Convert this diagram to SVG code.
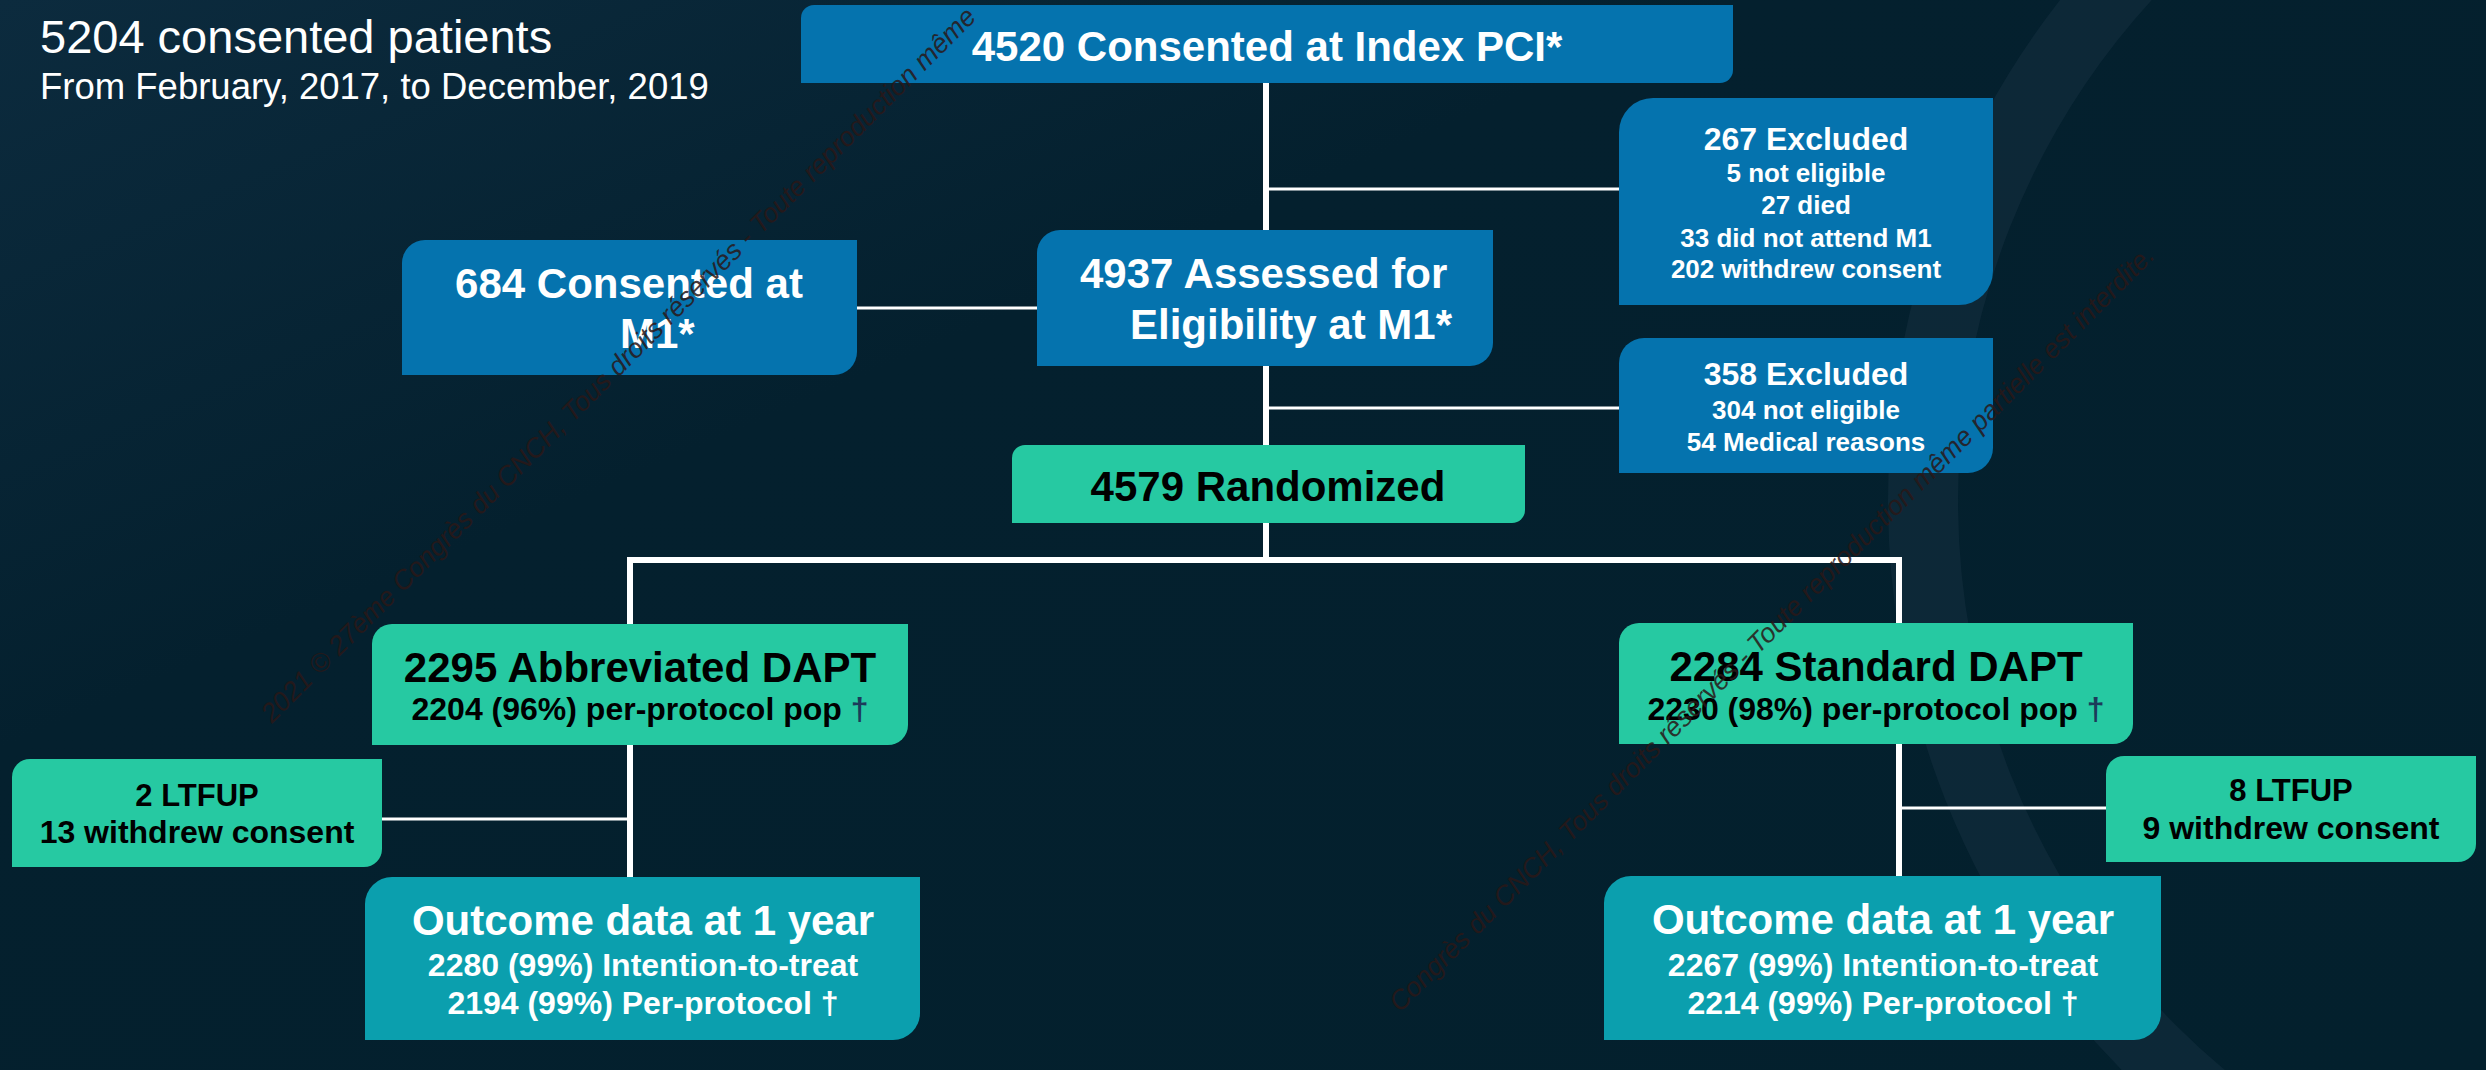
<svg xmlns="http://www.w3.org/2000/svg" width="2486" height="1070" viewBox="0 0 2486 1070">
<defs>
<linearGradient id="bg" x1="0" y1="0" x2="1" y2="1">
<stop offset="0" stop-color="#0c2b3e"/>
<stop offset="0.35" stop-color="#04202e"/>
<stop offset="1" stop-color="#03202d"/>
</linearGradient>
<style>
.t{font-family:"Liberation Sans",Arial,sans-serif;font-weight:bold;text-anchor:middle}
.w{fill:#ffffff}
.k{fill:#000000}
.h{font-size:42px}
.s{font-size:32px}
.x{font-size:26px}
.blue{fill:#0573ae}
.green{fill:#26c9a2}
.teal{fill:#0b9fae}
.main{stroke:#ffffff;stroke-width:6;fill:none;stroke-linecap:square}
.side{stroke:#ffffff;stroke-width:3;fill:none}
.dag{fill:#1c3a5a}
.wm{font-family:"Liberation Sans",Arial,sans-serif;font-style:italic;font-size:27px;fill:#2a1818;opacity:0.85}
</style>
</defs>
<rect x="0" y="0" width="2486" height="1070" fill="url(#bg)"/>
<circle cx="2700" cy="500" r="777" fill="none" stroke="#1b3447" stroke-width="70" opacity="0.4"/>

<g id="title">
<text x="40" y="53" style="font-family:'Liberation Sans',Arial,sans-serif;font-size:47px;fill:#ffffff">5204 consented patients</text>
<text x="40" y="99" style="font-family:'Liberation Sans',Arial,sans-serif;font-size:36.5px;fill:#ffffff">From February, 2017, to December, 2019</text>
</g>

<g id="connectors">
<line class="main" x1="1266" y1="83" x2="1266" y2="560"/>
<line class="main" x1="630" y1="560" x2="1899" y2="560"/>
<line class="main" x1="630" y1="560" x2="630" y2="877"/>
<line class="main" x1="1899" y1="560" x2="1899" y2="876"/>
<line class="side" x1="1266" y1="189" x2="1619" y2="189"/>
<line class="side" x1="1266" y1="408" x2="1619" y2="408"/>
<line class="side" x1="857" y1="308" x2="1037" y2="308"/>
<line class="side" x1="382" y1="819" x2="630" y2="819"/>
<line class="side" x1="1899" y1="808" x2="2106" y2="808"/>
</g>

<g id="n4520">
<path class="blue" d="M801,18 A13,13 0 0 1 814,5 H1733 V70 A13,13 0 0 1 1720,83 H801 Z"/>
<text class="t w h" x="1267" y="61">4520 Consented at Index PCI*</text>
</g>

<g id="n267">
<path class="blue" d="M1619,132 A34,34 0 0 1 1653,98 H1993 V271 A34,34 0 0 1 1959,305 H1619 Z"/>
<text class="t w" x="1806" y="150" style="font-size:32px">267 Excluded</text>
<text class="t w x" x="1806" y="182">5 not eligible</text>
<text class="t w x" x="1806" y="214">27 died</text>
<text class="t w x" x="1806" y="247">33 did not attend M1</text>
<text class="t w x" x="1806" y="278">202 withdrew consent</text>
</g>

<g id="n358">
<path class="blue" d="M1619,363 A25,25 0 0 1 1644,338 H1993 V448 A25,25 0 0 1 1968,473 H1619 Z"/>
<text class="t w" x="1806" y="385" style="font-size:32px">358 Excluded</text>
<text class="t w x" x="1806" y="419">304 not eligible</text>
<text class="t w x" x="1806" y="451">54 Medical reasons</text>
</g>

<g id="n684">
<path class="blue" d="M402,263 A23,23 0 0 1 425,240 H857 V352 A23,23 0 0 1 834,375 H402 Z"/>
<text class="t w h" x="629" y="298">684 Consented at</text>
<text class="t w h" x="620" y="348" style="text-anchor:start">M1*</text>
</g>

<g id="n4937">
<path class="blue" d="M1037,253 A23,23 0 0 1 1060,230 H1493 V343 A23,23 0 0 1 1470,366 H1037 Z"/>
<text class="t w h" x="1080" y="288" style="text-anchor:start">4937 Assessed for</text>
<text class="t w h" x="1130" y="339" style="text-anchor:start">Eligibility at M1*</text>
</g>

<g id="n4579">
<path class="green" d="M1012,458 A13,13 0 0 1 1025,445 H1525 V510 A13,13 0 0 1 1512,523 H1012 Z"/>
<text class="t k h" x="1268" y="501">4579 Randomized</text>
</g>

<g id="nAbbrev">
<path class="green" d="M372,644 A20,20 0 0 1 392,624 H908 V725 A20,20 0 0 1 888,745 H372 Z"/>
<text class="t k h" x="640" y="682">2295 Abbreviated DAPT</text>
<text class="t k s" x="640" y="720">2204 (96%) per-protocol pop <tspan class="dag">†</tspan></text>
</g>

<g id="nStandard">
<path class="green" d="M1619,643 A20,20 0 0 1 1639,623 H2133 V724 A20,20 0 0 1 2113,744 H1619 Z"/>
<text class="t k h" x="1876" y="681">2284 Standard DAPT</text>
<text class="t k s" x="1876" y="720">2230 (98%) per-protocol pop <tspan class="dag">†</tspan></text>
</g>

<g id="nLtfupL">
<path class="green" d="M12,777 A18,18 0 0 1 30,759 H382 V849 A18,18 0 0 1 364,867 H12 Z"/>
<text class="t k" x="197" y="806" style="font-size:31px">2 LTFUP</text>
<text class="t k s" x="197" y="843">13 withdrew consent</text>
</g>

<g id="nLtfupR">
<path class="green" d="M2106,774 A18,18 0 0 1 2124,756 H2476 V844 A18,18 0 0 1 2458,862 H2106 Z"/>
<text class="t k" x="2291" y="801" style="font-size:31px">8 LTFUP</text>
<text class="t k s" x="2291" y="839">9 withdrew consent</text>
</g>

<g id="nOutcomeL">
<path class="teal" d="M365,904 A27,27 0 0 1 392,877 H920 V1013 A27,27 0 0 1 893,1040 H365 Z"/>
<text class="t w h" x="643" y="935">Outcome data at 1 year</text>
<text class="t w s" x="643" y="976">2280 (99%) Intention-to-treat</text>
<text class="t w s" x="643" y="1014">2194 (99%) Per-protocol †</text>
</g>

<g id="nOutcomeR">
<path class="teal" d="M1604,903 A27,27 0 0 1 1631,876 H2161 V1013 A27,27 0 0 1 2134,1040 H1604 Z"/>
<text class="t w h" x="1883" y="934">Outcome data at 1 year</text>
<text class="t w s" x="1883" y="976">2267 (99%) Intention-to-treat</text>
<text class="t w s" x="1883" y="1014">2214 (99%) Per-protocol †</text>
</g>

<g id="watermark">
<text class="wm" transform="translate(272,724) rotate(-45)">2021 © 27ème Congrès du CNCH, Tous droits réservés - Toute reproduction même</text>
<text class="wm" transform="translate(1400,1013) rotate(-45)">Congrès du CNCH, Tous droits réservés - Toute reproduction même partielle est interdite.</text>
</g>
</svg>
